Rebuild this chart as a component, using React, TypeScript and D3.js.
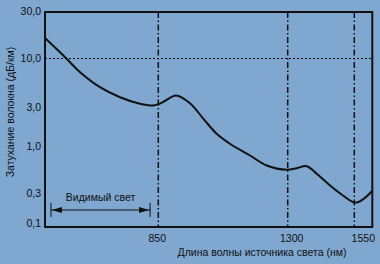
import React from "react";
import * as d3 from "d3";

const wavelengths = [450, 521, 574, 644, 715, 785, 832, 850, 873, 912, 960, 1007, 1053, 1099, 1169, 1227, 1297, 1334, 1371, 1409, 1459, 1509, 1553, 1585, 1618];
const attenuation = [16.2, 10.3, 7.14, 4.94, 3.86, 3.29, 3.15, 3.25, 3.52, 4.03, 3.33, 2.18, 1.43, 1.08, 0.794, 0.615, 0.551, 0.574, 0.604, 0.497, 0.368, 0.276, 0.215, 0.244, 0.318];

const yTicks = [30, 10, 3, 1, 0.3, 0.1];
const yTickLabels = ["30,0", "10,0", "3,0", "1,0", "0,3", "0,1"];
const xTicks = [850, 1300, 1550];
const xTickLabels = ["850", "1300", "1550"];
const xDomainStops = [450, 850, 1300, 1550, 1620];
const visibleRange = [471, 821];
const visibleLabel = "Видимый свет";
const referenceLine = 10;
const xTitle = "Длина волны источника света (нм)";
const yTitle = "Затухание волокна (дБ/км)";

const W = 380, H = 264;
const L = 45, R = 372.3, T = 12, B = 227;
const BG = "#7fa7d0";
const FONT = "'Liberation Sans', Arial, sans-serif";

export default function App() {
  const x = d3.scaleLinear().domain(xDomainStops).range([L, 158.3, 287.7, 354.3, R]);
  const y = d3.scaleLog().domain(yTicks).range([T, 58.5, 107.5, 146.5, 193.5, 223.5]);

  const pts = wavelengths.map((w, i) => [w, attenuation[i]] as [number, number]);
  const line = d3.line<[number, number]>().x(d => x(d[0])).y(d => y(d[1])).curve(d3.curveCatmullRom.alpha(0.5));

  const ax0 = x(visibleRange[0]), ax1 = x(visibleRange[1]);
  const ay = y(0.164);
  const labelY = y(0.264);
  const xLabelDx = [-1, 4, 9];

  return (
    <svg width={W} height={H} style={{ position: "fixed", left: 0, top: 0 }} fontFamily={FONT}>
      <rect x={0} y={0} width={W} height={H} fill={BG} />
      {/* reference dotted line */}
      <line x1={L} x2={R} y1={y(referenceLine)} y2={y(referenceLine)} stroke="#111" strokeWidth={1} strokeDasharray="2,2" />
      {/* dash-dot verticals */}
      {xTicks.map(t => (
        <line key={t} x1={x(t)} x2={x(t)} y1={T} y2={B} stroke="#111" strokeWidth={1.5} strokeDasharray="6,2.5,1.5,2.5" />
      ))}
      {/* curve */}
      <path d={line(pts) || ""} fill="none" stroke="#111" strokeWidth={2} />
      {/* visible light annotation */}
      <line x1={ax0} x2={ax1} y1={ay} y2={ay} stroke="#111" strokeWidth={1} />
      <line x1={ax0} x2={ax0} y1={ay - 7} y2={ay + 7} stroke="#111" strokeWidth={1} />
      <line x1={ax1} x2={ax1} y1={ay - 7} y2={ay + 7} stroke="#111" strokeWidth={1} />
      <path d={`M${ax0 + 1},${ay} L${ax0 + 11},${ay - 3} L${ax0 + 11},${ay + 3} Z`} fill="#111" />
      <path d={`M${ax1 - 1},${ay} L${ax1 - 11},${ay - 3} L${ax1 - 11},${ay + 3} Z`} fill="#111" />
      <text x={(ax0 + ax1) / 2} y={labelY} textAnchor="middle" dominantBaseline="central" fontSize={10.5} fill="#111">{visibleLabel}</text>
      {/* frame */}
      <rect x={L} y={T} width={R - L} height={B - T} fill="none" stroke="#111" strokeWidth={2} />
      {/* y tick labels */}
      {yTicks.map((t, i) => (
        <text key={t} x={41} y={y(t) - 1} textAnchor="end" dominantBaseline="central" fontSize={10.5} fill="#111">{yTickLabels[i]}</text>
      ))}
      {/* x tick labels */}
      {xTicks.map((t, i) => (
        <text key={t} x={x(t) + xLabelDx[i]} y={238} textAnchor="middle" dominantBaseline="central" fontSize={10.5} fill="#111">{xTickLabels[i]}</text>
      ))}
      <text x={262} y={252} textAnchor="middle" dominantBaseline="central" fontSize={10.5} fill="#111">{xTitle}</text>
      <text transform={`translate(10,112) rotate(-90)`} textAnchor="middle" dominantBaseline="central" fontSize={10.5} fill="#111">{yTitle}</text>
    </svg>
  );
}
